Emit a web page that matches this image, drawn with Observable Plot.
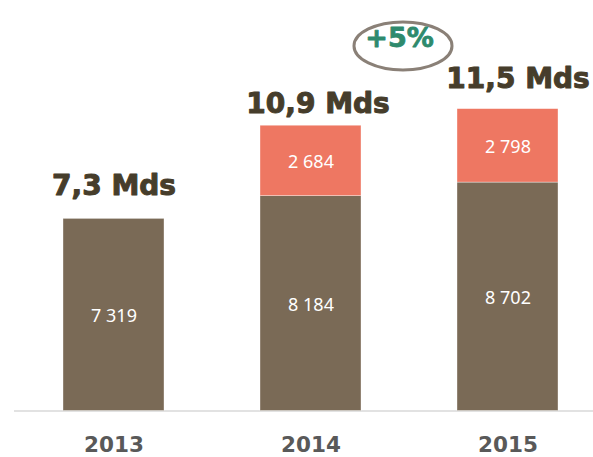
<!DOCTYPE html>
<html><head><meta charset="utf-8">
<script src="https://cdn.jsdelivr.net/npm/d3@7"></script>
<script src="https://cdn.jsdelivr.net/npm/@observablehq/plot@0.6"></script>
<style>body{margin:0;background:#fff}</style>
</head><body><div id="chart"></div>
<script>
const years = ["2013", "2014", "2015"];
const seriesNames = ["base", "complement"];
const baseValues = [7319, 8184, 8702];
const complementValues = [0, 2684, 2798];
const totalLabels = ["7,3 Mds", "10,9 Mds", "11,5 Mds"];
const growthLabel = "+5%";

const rows = [];
years.forEach((y, i) => {
  rows.push({year: y, series: "base", value: baseValues[i]});
  if (complementValues[i] > 0) rows.push({year: y, series: "complement", value: complementValues[i]});
});
const totals = years.map((y, i) => ({year: y, total: baseValues[i] + complementValues[i], label: totalLabels[i]}));
const fmt = v => String(v).replace(/\B(?=(\d{3})+(?!\d))/g, " ");

// ellipse symbol (stroke only)
const ellipseSymbol = {
  draw(ctx) {
    const rx = 49, ry = 24, k = 0.5523;
    ctx.moveTo(rx, 0);
    ctx.bezierCurveTo(rx, ry * k, rx * k, ry, 0, ry);
    ctx.bezierCurveTo(-rx * k, ry, -rx, ry * k, -rx, 0);
    ctx.bezierCurveTo(-rx, -ry * k, -rx * k, -ry, 0, -ry);
    ctx.bezierCurveTo(rx * k, -ry, rx, -ry * k, rx, 0);
    ctx.closePath();
  }
};

const labelOffsets = [[0, -33], [7, -21.5], [10, -30.5]];

const chart = Plot.plot({
  width: 593,
  height: 457,
  marginTop: 0,
  marginBottom: 46.5,
  marginLeft: 32.7,
  marginRight: 5.2,
  x: {domain: years, paddingInner: 0.486, paddingOuter: 0.15, label: null},
  y: {domain: [0, 15638], axis: null},
  color: {domain: seriesNames, range: ["#7a6a56", "#ee7762"]},
  style: {background: "#fff", overflow: "visible"},
  marks: [
    Plot.ruleY([0], {stroke: "#d9d9d9", strokeWidth: 1.5, insetLeft: -18.7, insetRight: -5.2}),
    Plot.barY(rows, {x: "year", y: "value", fill: "series", stroke: "#fff", strokeWidth: 0.6, strokeOpacity: 0.6}),
    Plot.text(rows, Plot.stackY({x: "year", y: "value", z: "series", text: d => fmt(d.value), fill: "white", fontSize: 18, fontFamily: "Noto Sans", dy: 1.5})),
    ...totals.map((t, i) => Plot.text([t], {
      x: "year", y: "total", text: "label", dx: labelOffsets[i][0], dy: labelOffsets[i][1],
      fontSize: 28, fontWeight: "bold", fontFamily: "DejaVu Sans", fill: "#463d2b",
      stroke: "#463d2b", strokeWidth: 1
    })),
    Plot.dot([totals[2]], {x: "year", y: "total", dx: -105, dy: -63.2, symbol: ellipseSymbol, r: 10, stroke: "#8a8077", strokeWidth: 3, fill: "none"}),
    Plot.text([totals[2]], {x: "year", y: "total", text: () => growthLabel, dx: -108.5, dy: -71, fontSize: 27, fontWeight: "bold", fontFamily: "DejaVu Sans", fill: "#2e8a6d", stroke: "#2e8a6d", strokeWidth: 0.8}),
    Plot.axisX({tickSize: 0, tickPadding: 26, fontSize: 21.5, fontWeight: "bold", fontFamily: "DejaVu Sans", fill: "#595959", stroke: "#595959", strokeWidth: 0.7})
  ]
});
document.getElementById("chart").appendChild(chart);
</script>
</body></html>
